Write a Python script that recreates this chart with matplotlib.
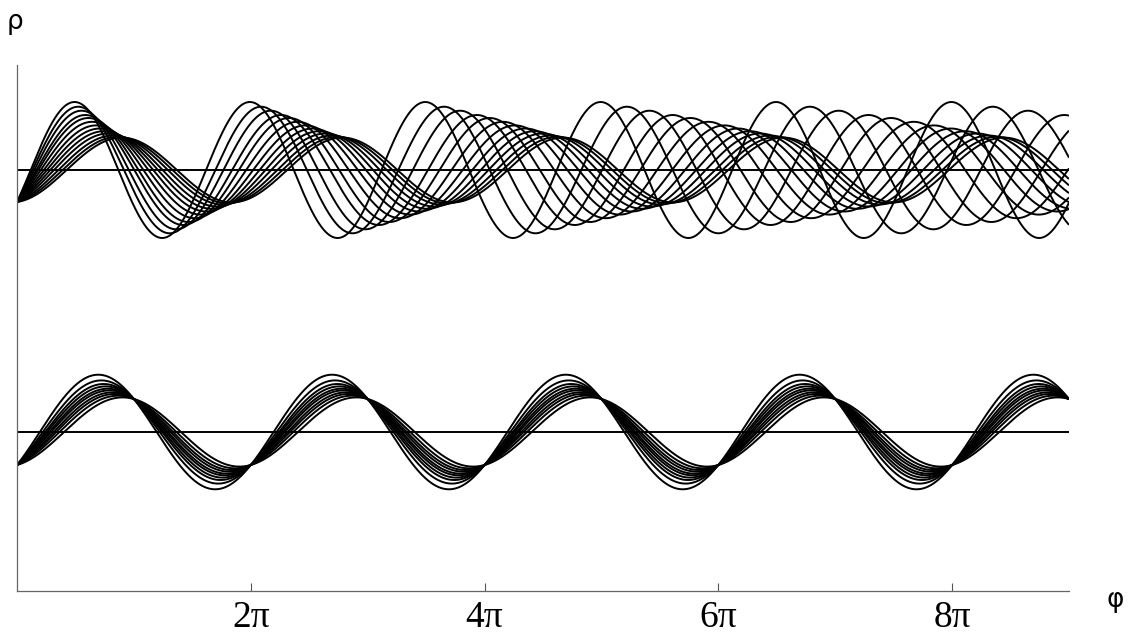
import numpy as np
import matplotlib
matplotlib.use('Agg')
import matplotlib.pyplot as plt

# x ticks (multiples of pi)
tick_mult = [2, 4, 6, 8]
tick_labels = ['2π', '4π', '6π', '8π']
phi_max_mult = 9

# lower family: closed curves, all with period 2π
bot_base = 1.59
bot_start = 0.33          # drop below the line at φ = 0
bot_peak = [0.573, 0.516, 0.480, 0.456, 0.433, 0.416, 0.396, 0.380, 0.363, 0.346]

# upper family: frequency grows with the amplitude
top_base = 4.21
top_start = 0.32
top_peak = [0.680, 0.633, 0.593, 0.550, 0.520, 0.482, 0.446, 0.415, 0.388,
            0.365, 0.345, 0.332, 0.324]
top_freq = [1.333, 1.278, 1.235, 1.194, 1.165, 1.138, 1.116, 1.099, 1.086,
            1.076, 1.068, 1.063, 1.060]

W, H = 1129, 635
fig = plt.figure(figsize=(W / 100, H / 100), dpi=100)
ax = fig.add_axes([17 / W, (H - 591) / H, (1069 - 17) / W, (591 - 65) / H])

phi = np.linspace(0, phi_max_mult * np.pi, 3000)

def family(base, start, peaks, freqs):
    for r, w in zip(peaks, freqs):
        q = np.sqrt(max(r ** 2 - start ** 2, 0.0))
        rho = base - start * np.cos(w * phi) + q * np.sin(w * phi)
        ax.plot(phi, rho, color='black', lw=1.4, solid_capstyle='butt')
    ax.axhline(base, color='black', lw=1.4)

family(top_base, top_start, top_peak, top_freq)
family(bot_base, bot_start, bot_peak, [1.0] * len(bot_peak))

ax.set_xlim(0, phi_max_mult * np.pi)
ax.set_ylim(0, (591 - 65) / 100)
ax.set_xticks([m * np.pi for m in tick_mult])
ax.set_xticklabels(tick_labels, family='Liberation Serif', fontsize=27)
ax.set_yticks([])
ax.tick_params(axis='x', direction='in', length=6, width=0.8, color='#555555', pad=7)
for s in ['top', 'right']:
    ax.spines[s].set_visible(False)
for s in ['left', 'bottom']:
    ax.spines[s].set_color('#666666')
    ax.spines[s].set_linewidth(0.9)

fig.text(15 / W, 1 - 22 / H, 'ρ', fontsize=19, ha='center', va='center')
fig.text(1115 / W, 1 - 600 / H, 'φ', fontsize=19, ha='center', va='center')

fig.savefig('out.png', dpi=100)
